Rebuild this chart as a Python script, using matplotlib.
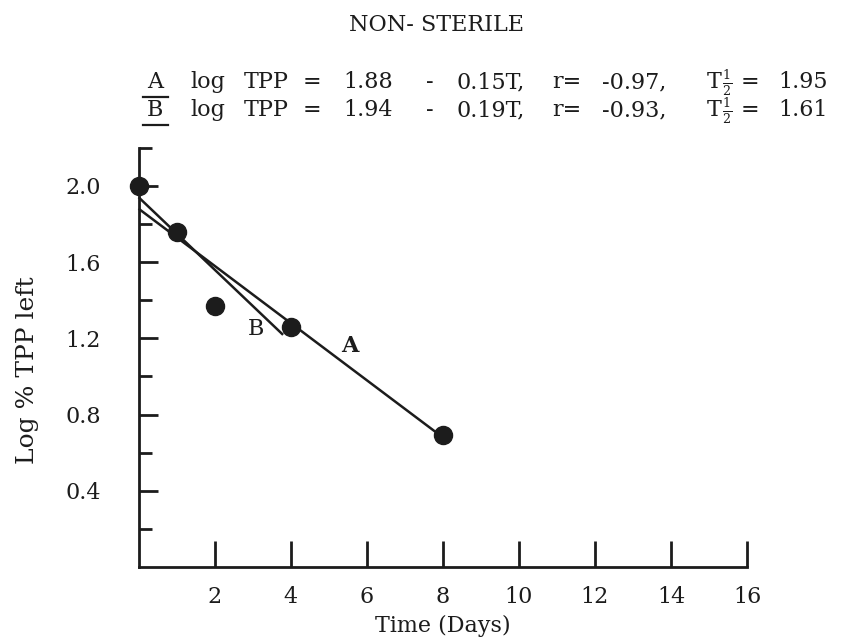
import matplotlib
matplotlib.use("Agg")
import matplotlib.pyplot as plt
from matplotlib.lines import Line2D

plt.rcParams['font.family'] = ['DejaVu Serif']
plt.rcParams['mathtext.fontset'] = 'dejavuserif'

# measured points (days, log % TPP left)
days = [0, 1, 2, 4, 8]
log_tpp = [2.0, 1.76, 1.37, 1.26, 0.69]

# regression lines: intercept, slope, end of drawn line
fit_a = (1.88, -0.15, 8.0)
fit_b = (1.94, -0.19, 3.8)

x_ticks = [2, 4, 6, 8, 10, 12, 14, 16]
y_ticks = [0.4, 0.8, 1.2, 1.6, 2.0]
y_minor = [0.2, 0.6, 1.0, 1.4, 1.8, 2.2]
y_labels = ["0.4", "0.8", "1.2", "1.6", "2.0"]

eq_a = ['A', 'log', 'TPP', '=', '1.88', '-', '0.15T,', 'r=', '-0.97,', 'T', '=', '1.95']
eq_b = ['B', 'log', 'TPP', '=', '1.94', '-', '0.19T,', 'r=', '-0.93,', 'T', '=', '1.61']
# centre of each word along the line, in pixels of the 847 px wide figure
eq_x = [155, 208, 266, 312, 368, 430, 491, 567, 634, 714, 750, 803]
half = r'$\frac{1}{2}$'

ink = '#1c1c1c'
W, H = 847, 639

fig = plt.figure(figsize=(8.47, 6.39), dpi=100)
ax = fig.add_axes([0.1636, 0.1127, 0.7184, 0.6562])

for b0, b1, tend in (fit_a, fit_b):
    ax.plot([0, tend], [b0, b0 + b1 * tend], color=ink, lw=1.8, solid_capstyle='butt', clip_on=False)

ax.plot(days, log_tpp, 'o', color=ink, ms=13, clip_on=False, zorder=3)

ax.text(3.09, 1.25, 'B', fontsize=16, ha='center', va='center', color=ink)
ax.text(5.56, 1.16, 'A', fontsize=16, ha='center', va='center', color=ink, fontweight='bold')

ax.set_xlim(0, 16)
ax.set_ylim(0, 2.2)
ax.set_xticks(x_ticks)
ax.set_yticks(y_ticks)
ax.set_yticklabels(y_labels)
ax.set_yticks(y_minor, minor=True)
ax.tick_params(axis='y', which='major', direction='in', length=14, width=2, labelsize=16, pad=27, colors=ink)
ax.tick_params(axis='y', which='minor', direction='in', length=9, width=2, colors=ink)
ax.tick_params(axis='x', direction='in', length=19, width=2, labelsize=16, pad=14, colors=ink)

for s in ('top', 'right'):
    ax.spines[s].set_visible(False)
for s in ('left', 'bottom'):
    ax.spines[s].set_linewidth(2)
    ax.spines[s].set_color(ink)

ax.set_xlabel('Time (Days)', fontsize=16, color=ink, labelpad=5)
ax.set_ylabel('Log % TPP left', fontsize=18, color=ink)
ax.yaxis.set_label_coords(-0.163, 0.47)

fig.text(436 / W, 1 - 25 / H, 'NON- STERILE', fontsize=16, ha='center', va='center', color=ink)

for ypix, words in ((82, eq_a), (110, eq_b)):
    yf = 1 - ypix / H
    for xpix, word in zip(eq_x, words):
        fig.text(xpix / W, yf, word, fontsize=16, ha='center', va='center', color=ink)
    # subscript one-half after the T
    fig.text(727 / W, 1 - (ypix + 1) / H, half, fontsize=13, ha='center', va='center', color=ink)
    yu = 1 - (ypix + 15) / H
    fig.add_artist(Line2D([143 / W, 168 / W], [yu, yu], color=ink, lw=1.6))

fig.savefig('out.png', dpi=100, facecolor='white')
